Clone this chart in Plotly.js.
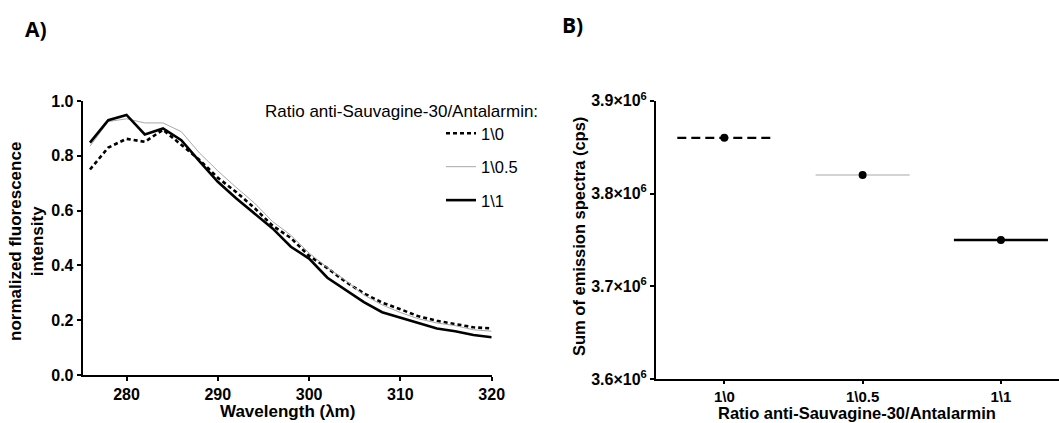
<!DOCTYPE html>
<html>
<head>
<meta charset="utf-8">
<script src="https://cdn.plot.ly/plotly-3.0.1.min.js"></script>
<style>html,body{margin:0;padding:0;background:#fff;}#chart{width:1059px;height:423px;}</style>
</head>
<body>
<div id="chart"></div>
<script>
// ---- Panel A data: emission spectra ----
const wavelength = [276,278,280,282,284,286,288,290,292,294,296,298,300,302,304,306,308,310,312,314,316,318,320];
const ratio_1_0   = [0.75,0.83,0.862,0.851,0.895,0.84,0.785,0.72,0.668,0.61,0.545,0.50,0.435,0.39,0.34,0.298,0.264,0.24,0.214,0.198,0.186,0.174,0.17];
const ratio_1_05  = [0.835,0.925,0.935,0.92,0.92,0.888,0.81,0.745,0.685,0.628,0.56,0.51,0.445,0.392,0.345,0.292,0.256,0.228,0.205,0.19,0.18,0.165,0.16];
const ratio_1_1   = [0.848,0.93,0.949,0.878,0.90,0.857,0.78,0.705,0.645,0.59,0.535,0.468,0.425,0.355,0.31,0.266,0.229,0.209,0.188,0.17,0.16,0.146,0.138];
const seriesNames = ['1\\0','1\\0.5','1\\1'];
const xTitleA = 'Wavelength (λm)';
const yTitleA = 'normalized fluorescence<br>intensity';
const legendTitle = 'Ratio anti-Sauvagine-30/Antalarmin:';

// ---- Panel B data: sum of emission spectra ----
const ratioCategories = ['1\\0','1\\0.5','1\\1'];
const sumEmission = [3.86e6, 3.82e6, 3.75e6];
const yTickVals = [3.6e6, 3.7e6, 3.8e6, 3.9e6];
const yTickText = ['3.6×10<sup>6</sup>','3.7×10<sup>6</sup>','3.8×10<sup>6</sup>','3.9×10<sup>6</sup>'];
const xTitleB = 'Ratio anti-Sauvagine-30/Antalarmin';
const yTitleB = 'Sum of emission spectra (cps)';

const styles = [
  {color:'#000000', width:2.6, dash:'4px,3px'},
  {color:'#a8a8a8', width:1, dash:'solid'},
  {color:'#000000', width:2.6, dash:'solid'}
];
const meanStyles = [
  {color:'#000000', width:2.4, dash:'9px,5px'},
  {color:'#c4c4c4', width:1.3, dash:'solid'},
  {color:'#000000', width:2.4, dash:'solid'}
];
const halfWidth = 0.34;

const FONT = 'Liberation Sans, Arial, sans-serif';
const spectra = [ratio_1_0, ratio_1_05, ratio_1_1];
const traces = [];
spectra.forEach((ys, i) => {
  traces.push({
    x: wavelength, y: ys, type: 'scatter', mode: 'lines',
    name: seriesNames[i], legendgroup: 'g' + i,
    line: {color: styles[i].color, width: styles[i].width, dash: styles[i].dash},
    xaxis: 'x', yaxis: 'y', hoverinfo: 'x+y'
  });
});
ratioCategories.forEach((c, i) => {
  traces.push({
    x: [i - halfWidth, i + halfWidth], y: [sumEmission[i], sumEmission[i]],
    type: 'scatter', mode: 'lines', showlegend: false,
    line: {color: meanStyles[i].color, width: meanStyles[i].width, dash: meanStyles[i].dash},
    xaxis: 'x2', yaxis: 'y2'
  });
});
traces.push({
  x: ratioCategories.map((c, i) => i), y: sumEmission, type: 'scatter', mode: 'markers',
  showlegend: false, marker: {color: '#000', size: 8},
  xaxis: 'x2', yaxis: 'y2'
});

const tickFont = {family: FONT, size: 16, color: '#000', weight: 'bold'};
const titleFont = {family: FONT, size: 17, color: '#000', weight: 'bold'};
const W = 1059, H = 423;
const px = v => v / W, py = v => 1 - v / H;

const axisCommon = {
  showgrid: false, zeroline: false, showline: true, linewidth: 2, linecolor: '#000',
  ticks: 'outside', ticklen: 4, tickwidth: 2, tickcolor: '#000', tickfont: tickFont
};

const layout = {
  width: W, height: H,
  margin: {l: 0, r: 0, t: 0, b: 0},
  paper_bgcolor: '#fff', plot_bgcolor: '#fff',
  font: {family: FONT, color: '#000'},
  showlegend: true,
  legend: {
    x: px(441), y: py(116), xanchor: 'left', yanchor: 'top',
    font: {family: FONT, size: 16.5, color: '#000'},
    traceorder: 'grouped', tracegroupgap: 9, bgcolor: 'rgba(0,0,0,0)'
  },
  xaxis: Object.assign({}, axisCommon, {
    domain: [px(82.7), px(491.7)], anchor: 'y',
    range: [275.2, 320], tickvals: [280,290,300,310,320]
  }),
  yaxis: Object.assign({}, axisCommon, {
    domain: [48/H, 322/H], anchor: 'x',
    range: [0, 1.0], tickvals: [0,0.2,0.4,0.6,0.8,1.0], tickformat: '.1f'
  }),
  xaxis2: Object.assign({}, axisCommon, {
    domain: [px(656), 1.0], anchor: 'y2',
    range: [-0.494, 2.42], tickvals: [0,1,2], ticktext: ratioCategories,
    ticklen: 3, tickfont: {family: FONT, size: 15, color: '#000', weight: 'bold'}
  }),
  yaxis2: Object.assign({}, axisCommon, {
    domain: [43.7/H, 322.3/H], anchor: 'x2',
    range: [3.6e6, 3.9e6], tickvals: yTickVals, ticktext: yTickText
  }),
  annotations: [
    {text: 'A)', x: px(23), y: py(29), xref: 'paper', yref: 'paper', xanchor: 'left', yanchor: 'middle',
     showarrow: false, font: {family: 'Open Sans, sans-serif', size: 21, color: '#000', weight: 'bold'}},
    {text: 'B)', x: px(560), y: py(25), xref: 'paper', yref: 'paper', xanchor: 'left', yanchor: 'middle',
     showarrow: false, font: {family: 'Open Sans, sans-serif', size: 21, color: '#000', weight: 'bold'}},
    {text: legendTitle, x: px(540), y: py(112), xref: 'paper', yref: 'paper',
     xanchor: 'right', yanchor: 'middle', showarrow: false, font: {family: FONT, size: 17, color: '#000'}},
    {text: xTitleA, x: px(287), y: py(411), xref: 'paper', yref: 'paper', xanchor: 'center', yanchor: 'middle',
     showarrow: false, font: titleFont},
    {text: xTitleB, x: px(857), y: 0, xref: 'paper', yref: 'paper', xanchor: 'center', yanchor: 'bottom',
     borderpad: 0, showarrow: false, font: {family: FONT, size: 16.5, color: '#000', weight: 'bold'}},
    {text: yTitleA, x: px(26), y: py(242), xref: 'paper', yref: 'paper', xanchor: 'center', yanchor: 'middle',
     textangle: -90, showarrow: false, font: titleFont},
    {text: yTitleB, x: px(579), y: py(237), xref: 'paper', yref: 'paper', xanchor: 'center', yanchor: 'middle',
     textangle: -90, showarrow: false, font: {family: FONT, size: 16.5, color: '#000', weight: 'bold'}}
  ]
};

Plotly.newPlot('chart', traces, layout, {displayModeBar: false, staticPlot: true});
</script>
</body>
</html>
